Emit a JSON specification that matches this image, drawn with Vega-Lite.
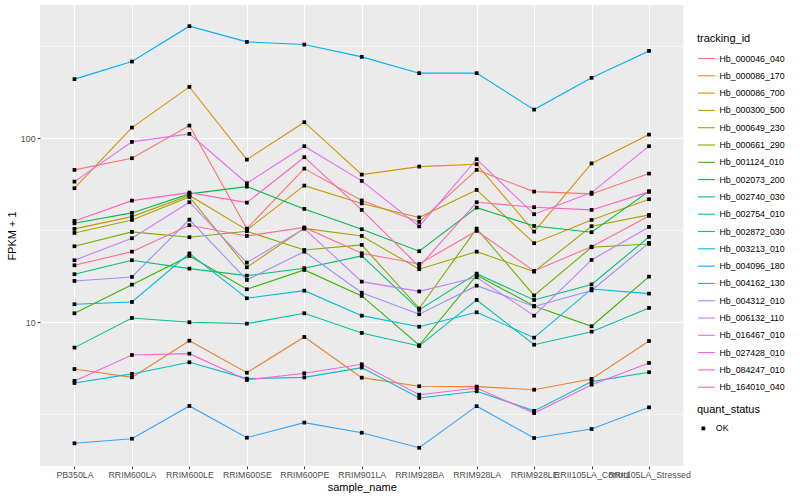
{
"$schema":"https://vega.github.io/schema/vega-lite/v6.json",
"width":643.5,"height":461,
"autosize":"none",
"padding":{"left":40,"top":5,"right":116.5,"bottom":34},
"background":"#FFFFFF",
"data":{"values":[
{"id":"Hb_000046_040","sample":"PB350LA","fpkm":67.25,"status":"OK"},{"id":"Hb_000046_040","sample":"RRIM600LA","fpkm":77.86,"status":"OK"},{"id":"Hb_000046_040","sample":"RRIM600LE","fpkm":117.1,"status":"OK"},{"id":"Hb_000046_040","sample":"RRIM600SE","fpkm":32.27,"status":"OK"},{"id":"Hb_000046_040","sample":"RRIM600PE","fpkm":68.36,"status":"OK"},{"id":"Hb_000046_040","sample":"RRIM901LA","fpkm":45.92,"status":"OK"},{"id":"Hb_000046_040","sample":"RRIM928BA","fpkm":35.09,"status":"OK"},{"id":"Hb_000046_040","sample":"RRIM928LA","fpkm":67.25,"status":"OK"},{"id":"Hb_000046_040","sample":"RRIM928LE","fpkm":51.27,"status":"OK"},{"id":"Hb_000046_040","sample":"RRII105LA_Control","fpkm":49.81,"status":"OK"},{"id":"Hb_000046_040","sample":"RRII105LA_Stressed","fpkm":64.21,"status":"OK"},
{"id":"Hb_000086_170","sample":"PB350LA","fpkm":5.57,"status":"OK"},{"id":"Hb_000086_170","sample":"RRIM600LA","fpkm":5.02,"status":"OK"},{"id":"Hb_000086_170","sample":"RRIM600LE","fpkm":7.94,"status":"OK"},{"id":"Hb_000086_170","sample":"RRIM600SE","fpkm":5.32,"status":"OK"},{"id":"Hb_000086_170","sample":"RRIM600PE","fpkm":8.32,"status":"OK"},{"id":"Hb_000086_170","sample":"RRIM901LA","fpkm":5.0,"status":"OK"},{"id":"Hb_000086_170","sample":"RRIM928BA","fpkm":4.49,"status":"OK"},{"id":"Hb_000086_170","sample":"RRIM928LA","fpkm":4.47,"status":"OK"},{"id":"Hb_000086_170","sample":"RRIM928LE","fpkm":4.30,"status":"OK"},{"id":"Hb_000086_170","sample":"RRII105LA_Control","fpkm":4.92,"status":"OK"},{"id":"Hb_000086_170","sample":"RRII105LA_Stressed","fpkm":7.91,"status":"OK"},
{"id":"Hb_000086_700","sample":"PB350LA","fpkm":53.49,"status":"OK"},{"id":"Hb_000086_700","sample":"RRIM600LA","fpkm":114.2,"status":"OK"},{"id":"Hb_000086_700","sample":"RRIM600LE","fpkm":190.0,"status":"OK"},{"id":"Hb_000086_700","sample":"RRIM600SE","fpkm":76.5,"status":"OK"},{"id":"Hb_000086_700","sample":"RRIM600PE","fpkm":122.2,"status":"OK"},{"id":"Hb_000086_700","sample":"RRIM901LA","fpkm":63.42,"status":"OK"},{"id":"Hb_000086_700","sample":"RRIM928BA","fpkm":70.1,"status":"OK"},{"id":"Hb_000086_700","sample":"RRIM928LA","fpkm":72.2,"status":"OK"},{"id":"Hb_000086_700","sample":"RRIM928LE","fpkm":31.08,"status":"OK"},{"id":"Hb_000086_700","sample":"RRII105LA_Control","fpkm":72.95,"status":"OK"},{"id":"Hb_000086_700","sample":"RRII105LA_Stressed","fpkm":104.6,"status":"OK"},
{"id":"Hb_000300_500","sample":"PB350LA","fpkm":32.15,"status":"OK"},{"id":"Hb_000300_500","sample":"RRIM600LA","fpkm":37.49,"status":"OK"},{"id":"Hb_000300_500","sample":"RRIM600LE","fpkm":48.88,"status":"OK"},{"id":"Hb_000300_500","sample":"RRIM600SE","fpkm":31.74,"status":"OK"},{"id":"Hb_000300_500","sample":"RRIM600PE","fpkm":55.26,"status":"OK"},{"id":"Hb_000300_500","sample":"RRIM901LA","fpkm":44.22,"status":"OK"},{"id":"Hb_000300_500","sample":"RRIM928BA","fpkm":37.12,"status":"OK"},{"id":"Hb_000300_500","sample":"RRIM928LA","fpkm":52.36,"status":"OK"},{"id":"Hb_000300_500","sample":"RRIM928LE","fpkm":26.88,"status":"OK"},{"id":"Hb_000300_500","sample":"RRII105LA_Control","fpkm":35.97,"status":"OK"},{"id":"Hb_000300_500","sample":"RRII105LA_Stressed","fpkm":46.61,"status":"OK"},
{"id":"Hb_000649_230","sample":"PB350LA","fpkm":30.57,"status":"OK"},{"id":"Hb_000649_230","sample":"RRIM600LA","fpkm":35.97,"status":"OK"},{"id":"Hb_000649_230","sample":"RRIM600LE","fpkm":47.97,"status":"OK"},{"id":"Hb_000649_230","sample":"RRIM600SE","fpkm":19.9,"status":"OK"},{"id":"Hb_000649_230","sample":"RRIM600PE","fpkm":32.35,"status":"OK"},{"id":"Hb_000649_230","sample":"RRIM901LA","fpkm":29.44,"status":"OK"},{"id":"Hb_000649_230","sample":"RRIM928BA","fpkm":19.41,"status":"OK"},{"id":"Hb_000649_230","sample":"RRIM928LA","fpkm":24.19,"status":"OK"},{"id":"Hb_000649_230","sample":"RRIM928LE","fpkm":18.84,"status":"OK"},{"id":"Hb_000649_230","sample":"RRII105LA_Control","fpkm":33.25,"status":"OK"},{"id":"Hb_000649_230","sample":"RRII105LA_Stressed","fpkm":38.3,"status":"OK"},
{"id":"Hb_000661_290","sample":"PB350LA","fpkm":25.88,"status":"OK"},{"id":"Hb_000661_290","sample":"RRIM600LA","fpkm":30.96,"status":"OK"},{"id":"Hb_000661_290","sample":"RRIM600LE","fpkm":28.97,"status":"OK"},{"id":"Hb_000661_290","sample":"RRIM600SE","fpkm":31.23,"status":"OK"},{"id":"Hb_000661_290","sample":"RRIM600PE","fpkm":24.71,"status":"OK"},{"id":"Hb_000661_290","sample":"RRIM901LA","fpkm":26.31,"status":"OK"},{"id":"Hb_000661_290","sample":"RRIM928BA","fpkm":11.88,"status":"OK"},{"id":"Hb_000661_290","sample":"RRIM928LA","fpkm":32.27,"status":"OK"},{"id":"Hb_000661_290","sample":"RRIM928LE","fpkm":13.99,"status":"OK"},{"id":"Hb_000661_290","sample":"RRII105LA_Control","fpkm":25.56,"status":"OK"},{"id":"Hb_000661_290","sample":"RRII105LA_Stressed","fpkm":26.64,"status":"OK"},
{"id":"Hb_001124_010","sample":"PB350LA","fpkm":11.19,"status":"OK"},{"id":"Hb_001124_010","sample":"RRIM600LA","fpkm":16.01,"status":"OK"},{"id":"Hb_001124_010","sample":"RRIM600LE","fpkm":22.93,"status":"OK"},{"id":"Hb_001124_010","sample":"RRIM600SE","fpkm":15.11,"status":"OK"},{"id":"Hb_001124_010","sample":"RRIM600PE","fpkm":19.24,"status":"OK"},{"id":"Hb_001124_010","sample":"RRIM901LA","fpkm":13.9,"status":"OK"},{"id":"Hb_001124_010","sample":"RRIM928BA","fpkm":7.5,"status":"OK"},{"id":"Hb_001124_010","sample":"RRIM928LA","fpkm":18.01,"status":"OK"},{"id":"Hb_001124_010","sample":"RRIM928LE","fpkm":12.26,"status":"OK"},{"id":"Hb_001124_010","sample":"RRII105LA_Control","fpkm":9.51,"status":"OK"},{"id":"Hb_001124_010","sample":"RRII105LA_Stressed","fpkm":17.69,"status":"OK"},
{"id":"Hb_002073_200","sample":"PB350LA","fpkm":34.51,"status":"OK"},{"id":"Hb_002073_200","sample":"RRIM600LA","fpkm":39.27,"status":"OK"},{"id":"Hb_002073_200","sample":"RRIM600LE","fpkm":49.81,"status":"OK"},{"id":"Hb_002073_200","sample":"RRIM600SE","fpkm":54.57,"status":"OK"},{"id":"Hb_002073_200","sample":"RRIM600PE","fpkm":41.29,"status":"OK"},{"id":"Hb_002073_200","sample":"RRIM901LA","fpkm":32.03,"status":"OK"},{"id":"Hb_002073_200","sample":"RRIM928BA","fpkm":24.31,"status":"OK"},{"id":"Hb_002073_200","sample":"RRIM928LA","fpkm":41.96,"status":"OK"},{"id":"Hb_002073_200","sample":"RRIM928LE","fpkm":33.37,"status":"OK"},{"id":"Hb_002073_200","sample":"RRII105LA_Control","fpkm":30.84,"status":"OK"},{"id":"Hb_002073_200","sample":"RRII105LA_Stressed","fpkm":51.58,"status":"OK"},
{"id":"Hb_002740_030","sample":"PB350LA","fpkm":18.24,"status":"OK"},{"id":"Hb_002740_030","sample":"RRIM600LA","fpkm":21.73,"status":"OK"},{"id":"Hb_002740_030","sample":"RRIM600LE","fpkm":19.56,"status":"OK"},{"id":"Hb_002740_030","sample":"RRIM600SE","fpkm":17.92,"status":"OK"},{"id":"Hb_002740_030","sample":"RRIM600PE","fpkm":19.66,"status":"OK"},{"id":"Hb_002740_030","sample":"RRIM901LA","fpkm":22.93,"status":"OK"},{"id":"Hb_002740_030","sample":"RRIM928BA","fpkm":11.67,"status":"OK"},{"id":"Hb_002740_030","sample":"RRIM928LA","fpkm":18.37,"status":"OK"},{"id":"Hb_002740_030","sample":"RRIM928LE","fpkm":13.22,"status":"OK"},{"id":"Hb_002740_030","sample":"RRII105LA_Control","fpkm":16.05,"status":"OK"},{"id":"Hb_002740_030","sample":"RRII105LA_Stressed","fpkm":29.08,"status":"OK"},
{"id":"Hb_002754_010","sample":"PB350LA","fpkm":7.28,"status":"OK"},{"id":"Hb_002754_010","sample":"RRIM600LA","fpkm":10.55,"status":"OK"},{"id":"Hb_002754_010","sample":"RRIM600LE","fpkm":10.0,"status":"OK"},{"id":"Hb_002754_010","sample":"RRIM600SE","fpkm":9.83,"status":"OK"},{"id":"Hb_002754_010","sample":"RRIM600PE","fpkm":11.19,"status":"OK"},{"id":"Hb_002754_010","sample":"RRIM901LA","fpkm":8.75,"status":"OK"},{"id":"Hb_002754_010","sample":"RRIM928BA","fpkm":7.43,"status":"OK"},{"id":"Hb_002754_010","sample":"RRIM928LA","fpkm":13.22,"status":"OK"},{"id":"Hb_002754_010","sample":"RRIM928LE","fpkm":7.55,"status":"OK"},{"id":"Hb_002754_010","sample":"RRII105LA_Control","fpkm":8.89,"status":"OK"},{"id":"Hb_002754_010","sample":"RRII105LA_Stressed","fpkm":11.96,"status":"OK"},
{"id":"Hb_002872_030","sample":"PB350LA","fpkm":4.68,"status":"OK"},{"id":"Hb_002872_030","sample":"RRIM600LA","fpkm":5.24,"status":"OK"},{"id":"Hb_002872_030","sample":"RRIM600LE","fpkm":6.06,"status":"OK"},{"id":"Hb_002872_030","sample":"RRIM600SE","fpkm":4.94,"status":"OK"},{"id":"Hb_002872_030","sample":"RRIM600PE","fpkm":5.02,"status":"OK"},{"id":"Hb_002872_030","sample":"RRIM901LA","fpkm":5.67,"status":"OK"},{"id":"Hb_002872_030","sample":"RRIM928BA","fpkm":3.88,"status":"OK"},{"id":"Hb_002872_030","sample":"RRIM928LA","fpkm":4.22,"status":"OK"},{"id":"Hb_002872_030","sample":"RRIM928LE","fpkm":3.30,"status":"OK"},{"id":"Hb_002872_030","sample":"RRII105LA_Control","fpkm":4.76,"status":"OK"},{"id":"Hb_002872_030","sample":"RRII105LA_Stressed","fpkm":5.35,"status":"OK"},
{"id":"Hb_003213_010","sample":"PB350LA","fpkm":12.53,"status":"OK"},{"id":"Hb_003213_010","sample":"RRIM600LA","fpkm":12.89,"status":"OK"},{"id":"Hb_003213_010","sample":"RRIM600LE","fpkm":23.65,"status":"OK"},{"id":"Hb_003213_010","sample":"RRIM600SE","fpkm":13.5,"status":"OK"},{"id":"Hb_003213_010","sample":"RRIM600PE","fpkm":14.85,"status":"OK"},{"id":"Hb_003213_010","sample":"RRIM901LA","fpkm":10.86,"status":"OK"},{"id":"Hb_003213_010","sample":"RRIM928BA","fpkm":9.46,"status":"OK"},{"id":"Hb_003213_010","sample":"RRIM928LA","fpkm":11.33,"status":"OK"},{"id":"Hb_003213_010","sample":"RRIM928LE","fpkm":8.25,"status":"OK"},{"id":"Hb_003213_010","sample":"RRII105LA_Control","fpkm":15.17,"status":"OK"},{"id":"Hb_003213_010","sample":"RRII105LA_Stressed","fpkm":14.31,"status":"OK"},
{"id":"Hb_004096_180","sample":"PB350LA","fpkm":209.3,"status":"OK"},{"id":"Hb_004096_180","sample":"RRIM600LA","fpkm":260.8,"status":"OK"},{"id":"Hb_004096_180","sample":"RRIM600LE","fpkm":406.1,"status":"OK"},{"id":"Hb_004096_180","sample":"RRIM600SE","fpkm":333.7,"status":"OK"},{"id":"Hb_004096_180","sample":"RRIM600PE","fpkm":322.6,"status":"OK"},{"id":"Hb_004096_180","sample":"RRIM901LA","fpkm":276.6,"status":"OK"},{"id":"Hb_004096_180","sample":"RRIM928BA","fpkm":225.6,"status":"OK"},{"id":"Hb_004096_180","sample":"RRIM928LA","fpkm":225.6,"status":"OK"},{"id":"Hb_004096_180","sample":"RRIM928LE","fpkm":143.0,"status":"OK"},{"id":"Hb_004096_180","sample":"RRII105LA_Control","fpkm":212.7,"status":"OK"},{"id":"Hb_004096_180","sample":"RRII105LA_Stressed","fpkm":298.1,"status":"OK"},
{"id":"Hb_004162_130","sample":"PB350LA","fpkm":2.20,"status":"OK"},{"id":"Hb_004162_130","sample":"RRIM600LA","fpkm":2.33,"status":"OK"},{"id":"Hb_004162_130","sample":"RRIM600LE","fpkm":3.51,"status":"OK"},{"id":"Hb_004162_130","sample":"RRIM600SE","fpkm":2.36,"status":"OK"},{"id":"Hb_004162_130","sample":"RRIM600PE","fpkm":2.85,"status":"OK"},{"id":"Hb_004162_130","sample":"RRIM901LA","fpkm":2.51,"status":"OK"},{"id":"Hb_004162_130","sample":"RRIM928BA","fpkm":2.08,"status":"OK"},{"id":"Hb_004162_130","sample":"RRIM928LA","fpkm":3.50,"status":"OK"},{"id":"Hb_004162_130","sample":"RRIM928LE","fpkm":2.35,"status":"OK"},{"id":"Hb_004162_130","sample":"RRII105LA_Control","fpkm":2.63,"status":"OK"},{"id":"Hb_004162_130","sample":"RRII105LA_Stressed","fpkm":3.45,"status":"OK"},
{"id":"Hb_004312_010","sample":"PB350LA","fpkm":16.77,"status":"OK"},{"id":"Hb_004312_010","sample":"RRIM600LA","fpkm":17.63,"status":"OK"},{"id":"Hb_004312_010","sample":"RRIM600LE","fpkm":36.11,"status":"OK"},{"id":"Hb_004312_010","sample":"RRIM600SE","fpkm":16.98,"status":"OK"},{"id":"Hb_004312_010","sample":"RRIM600PE","fpkm":24.19,"status":"OK"},{"id":"Hb_004312_010","sample":"RRIM901LA","fpkm":14.48,"status":"OK"},{"id":"Hb_004312_010","sample":"RRIM928BA","fpkm":11.05,"status":"OK"},{"id":"Hb_004312_010","sample":"RRIM928LA","fpkm":15.81,"status":"OK"},{"id":"Hb_004312_010","sample":"RRIM928LE","fpkm":12.19,"status":"OK"},{"id":"Hb_004312_010","sample":"RRII105LA_Control","fpkm":14.89,"status":"OK"},{"id":"Hb_004312_010","sample":"RRII105LA_Stressed","fpkm":26.98,"status":"OK"},
{"id":"Hb_006132_110","sample":"PB350LA","fpkm":21.73,"status":"OK"},{"id":"Hb_006132_110","sample":"RRIM600LA","fpkm":28.61,"status":"OK"},{"id":"Hb_006132_110","sample":"RRIM600LE","fpkm":44.89,"status":"OK"},{"id":"Hb_006132_110","sample":"RRIM600SE","fpkm":21.09,"status":"OK"},{"id":"Hb_006132_110","sample":"RRIM600PE","fpkm":32.27,"status":"OK"},{"id":"Hb_006132_110","sample":"RRIM901LA","fpkm":16.62,"status":"OK"},{"id":"Hb_006132_110","sample":"RRIM928BA","fpkm":14.71,"status":"OK"},{"id":"Hb_006132_110","sample":"RRIM928LA","fpkm":17.56,"status":"OK"},{"id":"Hb_006132_110","sample":"RRIM928LE","fpkm":10.86,"status":"OK"},{"id":"Hb_006132_110","sample":"RRII105LA_Control","fpkm":21.81,"status":"OK"},{"id":"Hb_006132_110","sample":"RRII105LA_Stressed","fpkm":32.96,"status":"OK"},
{"id":"Hb_016467_010","sample":"PB350LA","fpkm":58.09,"status":"OK"},{"id":"Hb_016467_010","sample":"RRIM600LA","fpkm":95.48,"status":"OK"},{"id":"Hb_016467_010","sample":"RRIM600LE","fpkm":105.5,"status":"OK"},{"id":"Hb_016467_010","sample":"RRIM600SE","fpkm":56.94,"status":"OK"},{"id":"Hb_016467_010","sample":"RRIM600PE","fpkm":90.48,"status":"OK"},{"id":"Hb_016467_010","sample":"RRIM901LA","fpkm":58.61,"status":"OK"},{"id":"Hb_016467_010","sample":"RRIM928BA","fpkm":33.17,"status":"OK"},{"id":"Hb_016467_010","sample":"RRIM928LA","fpkm":76.9,"status":"OK"},{"id":"Hb_016467_010","sample":"RRIM928LE","fpkm":38.63,"status":"OK"},{"id":"Hb_016467_010","sample":"RRII105LA_Control","fpkm":50.62,"status":"OK"},{"id":"Hb_016467_010","sample":"RRII105LA_Stressed","fpkm":90.48,"status":"OK"},
{"id":"Hb_027428_010","sample":"PB350LA","fpkm":4.80,"status":"OK"},{"id":"Hb_027428_010","sample":"RRIM600LA","fpkm":6.64,"status":"OK"},{"id":"Hb_027428_010","sample":"RRIM600LE","fpkm":6.75,"status":"OK"},{"id":"Hb_027428_010","sample":"RRIM600SE","fpkm":4.86,"status":"OK"},{"id":"Hb_027428_010","sample":"RRIM600PE","fpkm":5.28,"status":"OK"},{"id":"Hb_027428_010","sample":"RRIM901LA","fpkm":5.91,"status":"OK"},{"id":"Hb_027428_010","sample":"RRIM928BA","fpkm":4.04,"status":"OK"},{"id":"Hb_027428_010","sample":"RRIM928LA","fpkm":4.39,"status":"OK"},{"id":"Hb_027428_010","sample":"RRIM928LE","fpkm":3.21,"status":"OK"},{"id":"Hb_027428_010","sample":"RRII105LA_Control","fpkm":4.58,"status":"OK"},{"id":"Hb_027428_010","sample":"RRII105LA_Stressed","fpkm":6.01,"status":"OK"},
{"id":"Hb_084247_010","sample":"PB350LA","fpkm":35.53,"status":"OK"},{"id":"Hb_084247_010","sample":"RRIM600LA","fpkm":45.8,"status":"OK"},{"id":"Hb_084247_010","sample":"RRIM600LE","fpkm":50.62,"status":"OK"},{"id":"Hb_084247_010","sample":"RRIM600SE","fpkm":44.67,"status":"OK"},{"id":"Hb_084247_010","sample":"RRIM600PE","fpkm":78.83,"status":"OK"},{"id":"Hb_084247_010","sample":"RRIM901LA","fpkm":40.77,"status":"OK"},{"id":"Hb_084247_010","sample":"RRIM928BA","fpkm":20.05,"status":"OK"},{"id":"Hb_084247_010","sample":"RRIM928LA","fpkm":44.89,"status":"OK"},{"id":"Hb_084247_010","sample":"RRIM928LE","fpkm":42.17,"status":"OK"},{"id":"Hb_084247_010","sample":"RRII105LA_Control","fpkm":40.77,"status":"OK"},{"id":"Hb_084247_010","sample":"RRII105LA_Stressed","fpkm":51.08,"status":"OK"},
{"id":"Hb_164010_040","sample":"PB350LA","fpkm":20.4,"status":"OK"},{"id":"Hb_164010_040","sample":"RRIM600LA","fpkm":24.19,"status":"OK"},{"id":"Hb_164010_040","sample":"RRIM600LE","fpkm":33.67,"status":"OK"},{"id":"Hb_164010_040","sample":"RRIM600SE","fpkm":29.44,"status":"OK"},{"id":"Hb_164010_040","sample":"RRIM600PE","fpkm":32.75,"status":"OK"},{"id":"Hb_164010_040","sample":"RRIM901LA","fpkm":23.71,"status":"OK"},{"id":"Hb_164010_040","sample":"RRIM928BA","fpkm":20.74,"status":"OK"},{"id":"Hb_164010_040","sample":"RRIM928LA","fpkm":31.34,"status":"OK"},{"id":"Hb_164010_040","sample":"RRIM928LE","fpkm":19.0,"status":"OK"},{"id":"Hb_164010_040","sample":"RRII105LA_Control","fpkm":25.75,"status":"OK"},{"id":"Hb_164010_040","sample":"RRII105LA_Stressed","fpkm":37.82,"status":"OK"}
]},
"encoding":{
"x":{"field":"sample","type":"nominal","title":"sample_name",
"sort":["PB350LA","RRIM600LA","RRIM600LE","RRIM600SE","RRIM600PE","RRIM901LA","RRIM928BA","RRIM928LA","RRIM928LE","RRII105LA_Control","RRII105LA_Stressed"],
"scale":{"type":"point","padding":0.6},
"axis":{"labelAngle":0,"grid":true,"gridColor":"#FFFFFF","gridWidth":1.07,"titlePadding":2,"labelPadding":1.5,"labelOverlap":false}},
"y":{"field":"fpkm","type":"quantitative","title":"FPKM + 1",
"scale":{"type":"log","domain":[1.656,529.2],"nice":false,"zero":false},
"axis":{"values":[3.1623,10,31.623,100,316.23],"labelOverlap":false,
"labelExpr":"datum.value == 10 ? '10' : (datum.value == 100 ? '100' : '')",
"gridWidth":{"condition":{"test":"datum.value == 10 || datum.value == 100","value":1.07},"value":0.53},
"tickOpacity":{"condition":{"test":"datum.value == 10 || datum.value == 100","value":1},"value":0},
"titlePadding":3}}
},
"layer":[
{"mark":{"type":"line","strokeWidth":1.1,"clip":true},
"encoding":{"color":{"field":"id","type":"nominal","title":"tracking_id",
"scale":{"domain":["Hb_000046_040","Hb_000086_170","Hb_000086_700","Hb_000300_500","Hb_000649_230","Hb_000661_290","Hb_001124_010","Hb_002073_200","Hb_002740_030","Hb_002754_010","Hb_002872_030","Hb_003213_010","Hb_004096_180","Hb_004162_130","Hb_004312_010","Hb_006132_110","Hb_016467_010","Hb_027428_010","Hb_084247_010","Hb_164010_040"],
"range":["#F8766D","#EA8331","#D89000","#C09B00","#A3A500","#7CAE00","#39B600","#00BB4E","#00BF7D","#00C1A3","#00BFC4","#00BAE0","#00B0F6","#35A2FF","#9590FF","#C77CFF","#E76BF3","#FA62DB","#FF62BC","#FF6C91"]},
"legend":{"orient":"none","legendX":657,"legendY":28,"symbolType":"stroke","symbolSize":289,"symbolStrokeWidth":1.1,"rowPadding":2.3,"labelOffset":3.5,"titlePadding":5,"padding":0}}}},
{"mark":{"type":"point","filled":true,"color":"#000000","opacity":1,"size":14},
"encoding":{"shape":{"field":"status","type":"nominal","title":"quant_status",
"scale":{"domain":["OK"],"range":["square"]},
"legend":{"orient":"none","legendX":657,"legendY":399,"symbolSize":14,"symbolFillColor":"#000000","symbolStrokeColor":"#000000","symbolOffset":2,"labelOffset":8,"titlePadding":9,"padding":0}}}}
],
"config":{
"font":"Liberation Sans",
"view":{"fill":"#EBEBEB","stroke":null},
"axis":{"domain":false,"gridColor":"#FFFFFF","labelColor":"#4D4D4D","labelFontSize":8.8,"labelFont":"Liberation Sans","tickColor":"#333333","tickSize":2.75,"tickWidth":1,"labelPadding":2.2,"titleFontSize":11,"titleFontWeight":"normal","titleColor":"#000000","titleFont":"Liberation Sans"},
"legend":{"titleFontSize":11,"titleFontWeight":"normal","titleColor":"#000000","labelFontSize":8.8,"labelColor":"#000000","labelFont":"Liberation Sans","titleFont":"Liberation Sans"}
}
}
